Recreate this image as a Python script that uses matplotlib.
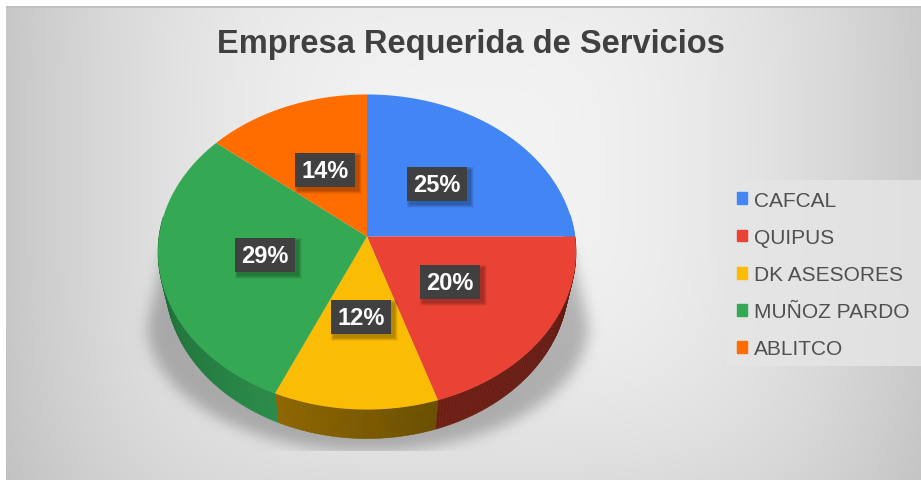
import numpy as np
import matplotlib
matplotlib.use("Agg")
import matplotlib.pyplot as plt
from matplotlib.patches import Patch, Rectangle

# data
empresas = ["CAFCAL", "QUIPUS", "DK ASESORES", "MUÑOZ PARDO", "ABLITCO"]
valores = [25, 20, 11.6, 29.4, 14]
colores = ["#4285F4", "#EA4335", "#FBBC04", "#34A853", "#FF6D01"]
lado_izq = ["#4285F4", "#5E1B14", "#8F6600", "#2A8C4A", "#FF6D01"]
lado_der = ["#4285F4", "#701F15", "#6A4F00", "#17602F", "#FF6D01"]
titulo = "Empresa Requerida de Servicios"

W, H = 921, 481
plt.rcParams["font.family"] = ["Liberation Sans", "DejaVu Sans"]
fig = plt.figure(figsize=(W / 100, H / 100), dpi=100)
ax = fig.add_axes([0, 0, 1, 1])
ax.set_xlim(0, W)
ax.set_ylim(H, 0)
ax.axis("off")

# pie seen in perspective: the apex is above the centre of the ellipse
cx, cy = 367, 237.5
rx, ry, persp = 208, 156, 0.0984
prof = 29


def punto(theta, esc=1.0, dy=0):
    u, v = np.cos(theta), np.sin(theta)
    d = 1 + persp * v
    return cx + esc * rx * u / d, cy - ry * v / d + dy


# background
yy, xx = np.mgrid[0:H, 0:W]
dist = (np.abs((xx - 470) / 460) ** 4 + np.abs((yy - 170) / 430) ** 4) ** 0.25
fondo = np.clip(0.955 - 0.17 * dist**2, 0, 1)

# soft shadow under the pie
ancho = np.where(yy < 325, 202 + (yy - 250) * 18 / 75, 220 * np.sqrt(np.clip(1 - ((yy - 325) / 127) ** 2, 0, 1)))
sombra = ((np.abs(xx - 367) < ancho) & (yy > 250) & (yy < 452)).astype(float)
fx = np.fft.fftfreq(W)[None, :]
fy = np.fft.fftfreq(H)[:, None]
sigma = 7
borde = np.real(np.fft.ifft2(np.fft.fft2(sombra) * np.exp(-2 * (np.pi * sigma) ** 2 * (fx**2 + fy**2))))
borde = borde * (yy < 452)
fondo = fondo * (1 - 0.25 * np.clip(borde, 0, 1))
fondo[:7, :] = 1
fondo[7:9, :] = np.minimum(fondo[7:9, :], 0.75)
fondo[:, :6] = 1
ax.imshow(np.dstack([fondo] * 3), extent=(0, W, H, 0), aspect="auto", zorder=0, interpolation="nearest")
ax.set_xlim(0, W)
ax.set_ylim(H, 0)

# wedges clockwise from the top
bordes = np.cumsum([0] + valores) / sum(valores)
angulos = np.pi / 2 - 2 * np.pi * bordes

# side wall, shaded strip by strip
for i in range(len(valores)):
    t = np.linspace(angulos[i], angulos[i + 1], 80)
    t = t[np.sin(t) < 0.15]
    if len(t) < 2:
        continue
    c0 = np.array(matplotlib.colors.to_rgb(lado_der[i]))
    c1 = np.array(matplotlib.colors.to_rgb(lado_izq[i]))
    for j in range(len(t) - 1):
        xa, ya = punto(t[j : j + 2])
        xb, yb = punto(t[j : j + 2], esc=0.965, dy=prof)
        f = j / (len(t) - 2)
        if i == 1:
            f = 1 - f
        col = c1 + (c0 - c1) * f if i == 3 else c0 + (c1 - c0) * f
        ax.fill(np.r_[xa, xb[::-1]], np.r_[ya, yb[::-1]], color=col, lw=0.4, zorder=2)

# top face
for i in range(len(valores)):
    t = np.linspace(angulos[i], angulos[i + 1], 120)
    x, y = punto(t)
    ax.fill(np.r_[cx, x], np.r_[cy, y], color=colores[i], lw=0, zorder=3)

# data labels
etq_x = [437, 450, 361, 265, 325]
etq_y = [185, 283, 318, 256, 171]
for x, y, v in zip(etq_x, etq_y, valores):
    for k in range(7, 0, -1):
        ax.add_patch(Rectangle((x - 30 + 3 - k / 2, y - 17 + 3 - k / 2), 60 + k, 34 + k,
                               color="black", alpha=0.045, lw=0, zorder=4))
    ax.add_patch(Rectangle((x - 30, y - 17), 60, 34, color="#404040", lw=0, zorder=5))
    ax.text(x, y + 0.5, "%.0f%%" % v, color="white", fontsize=17, fontweight="bold",
            ha="center", va="center", zorder=6)

ax.text(470.5, 44, titulo, fontsize=23.5, fontweight="bold", color="#404040", ha="center", va="center", zorder=6)

# legend
ax.add_patch(Rectangle((727, 181), 194, 186, color="#E6E6E6", alpha=0.8, lw=0, zorder=4))
marcas = [Patch(color=c) for c in colores]
ley = ax.legend(marcas, empresas, loc="center left", bbox_to_anchor=(737 / W, 1 - 275.5 / H),
                bbox_transform=ax.transAxes, frameon=False, fontsize=15, labelcolor="#505050",
                handlelength=0.5, handleheight=0.5, handletextpad=0.3, labelspacing=0.87,
                borderpad=0, borderaxespad=0)
ley.set_zorder(6)

fig.savefig("out.png", dpi=100)
